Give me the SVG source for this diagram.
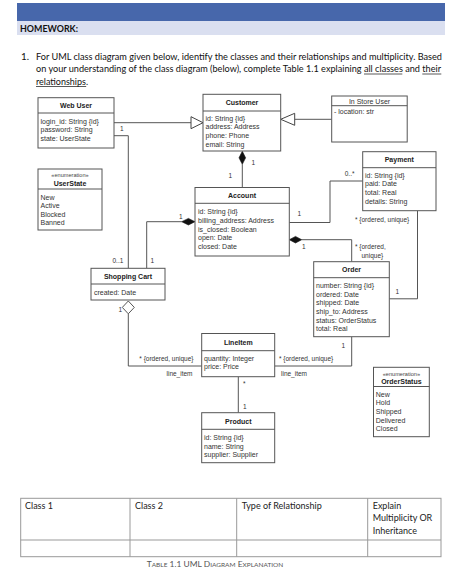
<svg xmlns="http://www.w3.org/2000/svg" width="474" height="577" viewBox="0 0 474 577">
<style>
.hd{font-family:Lato,"Open Sans","Liberation Sans",sans-serif;font-size:9.8px;fill:#111}
.ul{stroke:#111;stroke-width:0.7}
.box{fill:#fff;stroke:#555;stroke-width:1}
.sep{stroke:#555;stroke-width:1}
.t{font-family:"Liberation Sans",Arial,sans-serif;font-size:7px;fill:#333}
.tb{font-family:"Liberation Sans",Arial,sans-serif;font-size:7px;font-weight:bold;fill:#222;text-anchor:middle}
.tr{font-family:"Liberation Sans",Arial,sans-serif;font-size:7px;fill:#333;text-anchor:middle}
.st{font-family:"Liberation Sans",Arial,sans-serif;font-size:5.6px;fill:#444;text-anchor:middle}
.lb{font-family:"Liberation Sans",Arial,sans-serif;font-size:6.5px;fill:#333}
.ln{fill:none;stroke:#555;stroke-width:1}
.fd{fill:#111;stroke:#111;stroke-width:0.6}
.hdia{fill:#fff;stroke:#555;stroke-width:1}
.tri{fill:#fff;stroke:#444;stroke-width:1}
.tbl{fill:none;stroke:#999;stroke-width:1}
.tt{font-family:Lato,"Open Sans","Liberation Sans",sans-serif;font-size:9px;fill:#222}
.cap{font-family:Lato,"Open Sans","Liberation Sans",sans-serif;fill:#555}
</style>

<g id="header">
<rect x="17" y="3" width="428" height="18" fill="#4767ab"/>
<rect x="17" y="21" width="428" height="14" fill="#dadff0"/>
<text x="20" y="32" class="hd" font-weight="bold" textLength="58" lengthAdjust="spacingAndGlyphs">HOMEWORK:</text>
<text x="21" y="59.5" class="hd">1.</text>
<text x="36" y="59.5" class="hd" textLength="406" lengthAdjust="spacingAndGlyphs">For UML class diagram given below, identify the classes and their relationships and multiplicity.  Based</text>
<text x="36" y="72" class="hd" textLength="405" lengthAdjust="spacingAndGlyphs">on your understanding of the class diagram (below), complete Table 1.1 explaining all classes and their</text>
<text x="36" y="84.5" class="hd" textLength="52" lengthAdjust="spacingAndGlyphs">relationships.</text>
<line class="ul" x1="364" y1="74" x2="402.3" y2="74"/>
<line class="ul" x1="422.3" y1="74" x2="441.3" y2="74"/>
<line class="ul" x1="36" y1="86.5" x2="86.2" y2="86.5"/>
</g>

<g id="connectors">
<line class="ln" x1="114" y1="122.7" x2="191" y2="122.7"/>
<polygon class="tri" points="191,116.7 203,122.7 191,128.7"/>
<line class="ln" x1="331.7" y1="119.3" x2="294.7" y2="119.3"/>
<polygon class="tri" points="294.7,113.3 280.7,119.3 294.7,125.3"/>
<line class="ln" x1="242.3" y1="164.3" x2="242.3" y2="187.5"/>
<polygon class="fd" points="242.3,151.3 245.6,157.8 242.3,164.3 239,157.8"/>
<polyline class="ln" points="114,135.7 128.3,135.7 128.3,268.3"/>
<polyline class="ln" points="181.7,221.7 146.7,221.7 146.7,268.3"/>
<polygon class="fd" points="195,221.7 188.4,218.4 181.7,221.7 188.4,225"/>
<polyline class="ln" points="289.3,222.5 330,222.5 330,181 362.7,181"/>
<polyline class="ln" points="301.7,239.7 351.7,239.7 351.7,261.7"/>
<polygon class="fd" points="289.3,239.7 295.5,236.4 301.7,239.7 295.5,243"/>
<polyline class="ln" points="417.5,210.7 417.5,298.8 389.3,298.8"/>
<polyline class="ln" points="351.7,336.7 351.7,366 274.7,366"/>
<polyline class="ln" points="128.3,313.8 128.3,366 201.7,366"/>
<polygon class="hdia" points="128.3,301 134.3,307.4 128.3,313.8 122.3,307.4"/>
<line class="ln" x1="238.3" y1="376.7" x2="238.3" y2="412.7"/>

<text class="lb" x="120" y="130.5">1</text>
<text class="lb" x="251.5" y="165">1</text>
<text class="lb" x="228.5" y="178">1</text>
<text class="lb" x="179" y="219">1</text>
<text class="lb" x="297.5" y="215.5">1</text>
<text class="lb" x="354.5" y="175.5" text-anchor="end">0..*</text>
<text class="lb" x="355" y="221.5">* {ordered, unique}</text>
<text class="lb" x="302" y="248.5">1</text>
<text class="lb" x="355" y="249.3">* {ordered,</text>
<text class="lb" x="361.5" y="258.3">unique}</text>
<text class="lb" x="395.5" y="294">1</text>
<text class="lb" x="112.5" y="262.5">0..1</text>
<text class="lb" x="150.5" y="262.5">1</text>
<text class="lb" x="118.5" y="311.5">1</text>
<text class="lb" x="139.3" y="360.8">* {ordered, unique}</text>
<text class="lb" x="166.5" y="375.8">line_item</text>
<text class="lb" x="341.5" y="347.5">1</text>
<text class="lb" x="279" y="361.3">* {ordered, unique}</text>
<text class="lb" x="281" y="375.8">line_item</text>
<text class="lb" x="243" y="385.5">*</text>
<text class="lb" x="243" y="408.5">1</text>
</g>

<g id="webuser">
<rect class="box" x="38" y="97.7" width="76" height="50.3"/>
<line class="sep" x1="38" y1="113" x2="114" y2="113"/>
<text class="tb" x="76" y="108">Web User</text>
<text class="t" x="40.5" y="124.2">login_id: String {id}</text>
<text class="t" x="40.5" y="132.4">password: String</text>
<text class="t" x="40.5" y="140.6">state: UserState</text>
</g>

<g id="customer">
<rect class="box" x="203" y="94.3" width="77.7" height="56.7"/>
<line class="sep" x1="203" y1="111" x2="280.7" y2="111"/>
<text class="tb" x="242" y="104.5">Customer</text>
<text class="t" x="205.5" y="120.5">id: String {id}</text>
<text class="t" x="205.5" y="129.3">address: Address</text>
<text class="t" x="205.5" y="138.1">phone: Phone</text>
<text class="t" x="205.5" y="146.9">email: String</text>
</g>

<g id="instoreuser">
<rect class="box" x="331.7" y="96" width="75.5" height="46"/>
<line class="sep" x1="331.7" y1="105.7" x2="407.2" y2="105.7"/>
<text class="tr" x="369.5" y="103.8">In Store User</text>
<text class="t" x="334" y="113.5">- location: str</text>
</g>

<g id="userstate">
<rect class="box" x="38" y="169" width="64" height="61"/>
<line class="sep" x1="38" y1="189" x2="102" y2="189"/>
<text class="st" x="70" y="177">«enumeration»</text>
<text class="tb" x="70" y="185.8">UserState</text>
<text class="t" x="40.5" y="200.2">New</text>
<text class="t" x="40.5" y="208.4">Active</text>
<text class="t" x="40.5" y="216.6">Blocked</text>
<text class="t" x="40.5" y="224.8">Banned</text>
</g>

<g id="account">
<rect class="box" x="195" y="187.5" width="94.3" height="68.5"/>
<line class="sep" x1="195" y1="203.3" x2="289.3" y2="203.3"/>
<text class="tb" x="242" y="198.3">Account</text>
<text class="t" x="198" y="214.2">id: String {id}</text>
<text class="t" x="198" y="222.9">billing_address: Address</text>
<text class="t" x="198" y="231.6">is_closed: Boolean</text>
<text class="t" x="198" y="240.3">open: Date</text>
<text class="t" x="198" y="249">closed: Date</text>
</g>

<g id="payment">
<rect class="box" x="362.7" y="151.7" width="73.3" height="59"/>
<line class="sep" x1="362.7" y1="167.7" x2="436" y2="167.7"/>
<text class="tb" x="399.3" y="161.5">Payment</text>
<text class="t" x="365" y="177.5">id: String {id}</text>
<text class="t" x="365" y="186.2">paid: Date</text>
<text class="t" x="365" y="194.9">total: Real</text>
<text class="t" x="365" y="203.6">details: String</text>
</g>

<g id="order">
<rect class="box" x="313.7" y="261.7" width="75.6" height="75"/>
<line class="sep" x1="313.7" y1="277.7" x2="389.3" y2="277.7"/>
<text class="tb" x="351.5" y="272">Order</text>
<text class="t" x="316" y="288.2">number: String {id}</text>
<text class="t" x="316" y="296.8">ordered: Date</text>
<text class="t" x="316" y="305.4">shipped: Date</text>
<text class="t" x="316" y="314">ship_to: Address</text>
<text class="t" x="316" y="322.6">status: OrderStatus</text>
<text class="t" x="316" y="331.2">total: Real</text>
</g>

<g id="shoppingcart">
<rect class="box" x="91" y="268.3" width="74" height="31.7"/>
<line class="sep" x1="91" y1="284" x2="165" y2="284"/>
<text class="tb" x="128" y="278.5">Shopping Cart</text>
<text class="t" x="94" y="294.5">created: Date</text>
</g>

<g id="lineitem">
<rect class="box" x="201.7" y="333.5" width="73" height="43.2"/>
<line class="sep" x1="201.7" y1="350.7" x2="274.7" y2="350.7"/>
<text class="tb" x="238.3" y="345">LineItem</text>
<text class="t" x="204" y="360.8">quantity: Integer</text>
<text class="t" x="204" y="369.3">price: Price</text>
</g>

<g id="product">
<rect class="box" x="201.7" y="412.7" width="73" height="50"/>
<line class="sep" x1="201.7" y1="429.3" x2="274.7" y2="429.3"/>
<text class="tb" x="238.3" y="423.5">Product</text>
<text class="t" x="204" y="439.8">id: String {id}</text>
<text class="t" x="204" y="448.5">name: String</text>
<text class="t" x="204" y="457.2">supplier: Supplier</text>
</g>

<g id="orderstatus">
<rect class="box" x="373.5" y="367.3" width="55.8" height="69.4"/>
<line class="sep" x1="373.5" y1="386.5" x2="429.3" y2="386.5"/>
<text class="st" x="401.4" y="375.5">«enumeration»</text>
<text class="tb" x="401.4" y="383.8">OrderStatus</text>
<text class="t" x="375.8" y="396.5">New</text>
<text class="t" x="375.8" y="405.2">Hold</text>
<text class="t" x="375.8" y="413.9">Shipped</text>
<text class="t" x="375.8" y="422.6">Delivered</text>
<text class="t" x="375.8" y="431.3">Closed</text>
</g>

<g id="table">
<rect class="tbl" x="20.7" y="498.3" width="420.3" height="58.4"/>
<line class="tbl" x1="20.7" y1="540" x2="441" y2="540"/>
<line class="tbl" x1="130" y1="498.3" x2="130" y2="556.7"/>
<line class="tbl" x1="236.7" y1="498.3" x2="236.7" y2="556.7"/>
<line class="tbl" x1="367.7" y1="498.3" x2="367.7" y2="556.7"/>
<text class="tt" x="25" y="508.5">Class 1</text>
<text class="tt" x="135" y="508.5">Class 2</text>
<text class="tt" x="241.7" y="508.5">Type of Relationship</text>
<text class="tt" x="372.7" y="508.5">Explain</text>
<text class="tt" x="372.7" y="521">Multiplicity OR</text>
<text class="tt" x="372.7" y="533.5">Inheritance</text>
<text class="cap" x="146.7" y="567" font-size="8" textLength="136.6" lengthAdjust="spacingAndGlyphs">T<tspan font-size="6.2">ABLE</tspan> 1.1 UML D<tspan font-size="6.2">IAGRAM</tspan> E<tspan font-size="6.2">XPLANATION</tspan></text>
</g>
</svg>
